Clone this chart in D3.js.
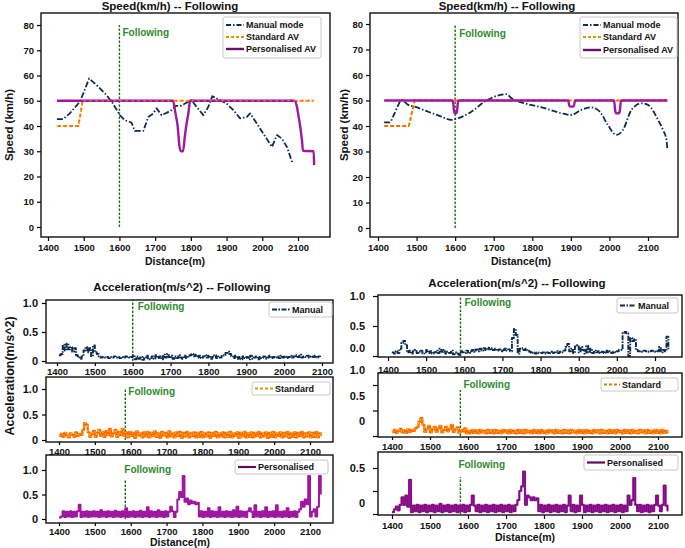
<!DOCTYPE html>
<html><head><meta charset="utf-8">
<script src="https://cdn.jsdelivr.net/npm/d3@7"></script>
<style>
body{margin:0;background:#fff}
text{font-family:Arial,"Liberation Sans",sans-serif;font-weight:bold;fill:#111}
</style>
</head><body>
<svg id="c" width="685" height="548"></svg>
<script>
// ---------------- DATA ----------------
const distTicks = [1400,1500,1600,1700,1800,1900,2000,2100];
const speedTicks = [0,10,20,30,40,50,60,70,80];
const accTicks = [0,0.5,1.0];
const accTickLabels = ["0","0.5","1.0"];
const accTickLabelsR1 = ["0.0","0.5","1.0"];
const accTicksR3 = [0,0.25,0.5];
const accTickLabelsR3 = ["0","","0.5"];
const followingLabel = "Following";
const speedSeriesNames = ["Manual mode","Standard AV","Personalised AV"];
const accSeriesNames = ["Manual","Standard","Personalised"];

// Speed, left study
const spdL_manual_d = [1425,1442,1461,1489,1502,1515,1536,1564,1582,1601,1615,1634,1643,1667,1681,1695,1704,1718,1732,1746,1758,1770,1784,1802,1816,1835,1849,1860,1882,1900,1919,1938,1957,1966,1980,2003,2027,2041,2055,2069,2085];
const spdL_manual_v = [42.7,42.7,45,49.6,54,58.8,56.2,52.2,48.9,44.3,42.3,41.3,38.1,38.1,43.6,45,47,44.3,45.2,46.3,48,47.9,48.9,50.2,47.6,44.3,47.6,51.8,50.2,48.9,46.3,43,43.6,45,42,37,31.7,36.4,35,31.7,25.1];
const spdL_std_d = [1425,1485,1497,2145];
const spdL_std_v = [40,40,50,50];
const spdL_pers_d = [1425,1750,1757,1763,1768,1772,1778,1783,1787,1793,1798,2090,2097,2101,2106,2111,2114,2144,2145];
const spdL_pers_v = [50,50,45,40,32,30,30,35.7,40,45,50,50,47.6,44.3,40,34.4,30.2,30,24.5];

// Speed, right study
const spdR_manual_d = [1416,1430,1443,1462,1478,1495,1530,1564,1590,1607,1642,1677,1702,1733,1746,1780,1832,1875,1901,1927,1953,1975,1996,2018,2035,2057,2083,2100,2126,2139,2148,2150];
const spdR_manual_v = [41.4,41.4,45,50.2,48.3,47.6,45.6,43.7,42.4,43,45.6,49.6,51.5,52.5,50.9,48.9,47,45,44.3,46.3,47.3,45.6,40.4,36.5,38.4,46.3,48.9,48.3,42.4,38.4,34.5,31.2];
const spdR_std_d = [1416,1480,1495,2150];
const spdR_std_v = [40,40,50,50];
const spdR_pers_d = [1416,1594,1597,1599,1603,1605,1608,1893,1896,1899,1905,1908,1911,2012,2015,2017,2025,2027,2030,2150];
const spdR_pers_v = [50,50,46,45,45,46,50,50,48,47.6,47.6,48,50,50,46,45,45,46,50,50];

// Following markers (distance, m)
const followL = [1600,1600,1585,1585];
const followR = [1600,1590,1580,1580];

// Acceleration series sampled every 5 m
const accStep = 5;
const accLM_start = 1405;
const accLM = [0.10,0.12,0.28,0.18,0.30,0.20,0.24,0.16,0.22,0.10,
 0.06,0.04,0.08,0.18,0.24,0.15,0.22,0.08,0.27,0.15,
 0.12,0.08,0.06,0.07,0.06,0.07,0.05,0.07,0.06,0.08,
 0.06,0.07,0.05,0.07,0.06,0.08,0.07,0.06,0.07,0.10,
 0.03,0.08,0.04,0.07,0.02,0.06,0.09,0.03,0.05,0.08,
 0.04,0.10,0.05,0.08,0.03,0.11,0.06,0.12,0.07,0.09,
 0.04,0.08,0.05,0.10,0.06,0.04,0.09,0.05,0.07,0.10,
 0.12,0.08,0.11,0.06,0.09,0.05,0.08,0.10,0.06,0.09,
 0.04,0.07,0.10,0.05,0.08,0.06,0.09,0.10,0.14,0.16,
 0.12,0.08,0.05,0.09,0.04,0.07,0.03,0.08,0.05,0.07,
 0.03,0.09,0.04,0.06,0.08,0.03,0.07,0.05,0.08,0.04,
 0.06,0.09,0.05,0.07,0.06,0.08,0.05,0.09,0.06,0.08,
 0.05,0.07,0.09,0.06,0.08,0.10,0.07,0.11,0.06,0.08,
 0.07,0.09,0.06,0.08,0.07,0.09,0.06,0.08,0.07];
const accLS_start = 1400;
const accLS = [0.08,0.12,0.06,0.14,0.09,0.05,0.13,0.10,0.06,0.15,
 0.08,0.12,0.10,0.20,0.33,0.30,0.15,0.06,0.12,0.18,
 0.06,0.14,0.20,0.08,0.15,0.06,0.18,0.10,0.22,0.07,
 0.13,0.20,0.06,0.16,0.10,0.22,0.08,0.15,0.05,0.16,
 0.08,0.14,0.04,0.17,0.09,0.13,0.05,0.15,0.07,0.16,
 0.05,0.14,0.08,0.17,0.06,0.13,0.04,0.16,0.09,0.14,
 0.05,0.17,0.07,0.13,0.05,0.15,0.08,0.16,0.04,0.14,
 0.07,0.16,0.05,0.13,0.08,0.15,0.05,0.14,0.06,0.16,
 0.05,0.13,0.07,0.15,0.04,0.14,0.08,0.16,0.05,0.13,
 0.07,0.15,0.05,0.14,0.06,0.16,0.05,0.13,0.08,0.15,
 0.04,0.14,0.07,0.16,0.05,0.13,0.06,0.15,0.05,0.14,
 0.08,0.16,0.05,0.13,0.07,0.15,0.04,0.14,0.06,0.16,
 0.05,0.13,0.08,0.15,0.05,0.14,0.07,0.16,0.04,0.13,
 0.06,0.15,0.05,0.14,0.08,0.16,0.05,0.13,0.07,0.15,
 0.05,0.14,0.06,0.16,0.05,0.13,0.08];
const accLP_start = 1400;
const accLP = [0.03,0.05,0.16,0.04,0.15,0.05,0.16,0.04,0.15,0.05,
 0.16,0.29,0.04,0.15,0.05,0.16,0.04,0.15,0.05,0.16,
 0.05,0.15,0.04,0.18,0.05,0.15,0.04,0.16,0.05,0.15,
 0.04,0.17,0.05,0.15,0.04,0.16,0.05,0.22,0.04,0.15,
 0.05,0.16,0.04,0.15,0.05,0.17,0.04,0.15,0.05,0.24,
 0.04,0.16,0.05,0.15,0.04,0.18,0.05,0.15,0.04,0.16,
 0.05,0.15,0.25,0.16,0.04,0.15,0.40,0.55,0.45,0.88,
 0.35,0.42,0.30,0.38,0.32,0.35,0.30,0.33,0.05,0.16,
 0.04,0.15,0.05,0.22,0.04,0.16,0.05,0.15,0.04,0.24,
 0.05,0.15,0.04,0.16,0.05,0.15,0.04,0.18,0.05,0.25,
 0.04,0.16,0.05,0.15,0.04,0.16,0.22,0.15,0.04,0.28,
 0.05,0.15,0.04,0.16,0.05,0.24,0.04,0.15,0.05,0.16,
 0.04,0.28,0.05,0.15,0.04,0.16,0.05,0.22,0.04,0.15,
 0.05,0.16,0.04,0.15,0.20,0.35,0.25,0.40,0.30,0.88,
 0.05,0.15,0.20,0.05,0.25,0.88,0.50];
const accRM_start = 1410;
const accRM = [0.06,0.04,0.08,0.05,0.12,0.22,0.25,0.18,0.06,0.09,
 0.04,0.08,0.10,0.05,0.07,0.09,0.04,0.06,0.10,0.05,
 0.08,0.04,0.06,0.09,0.05,0.12,0.07,0.10,0.04,0.07,
 0.05,0.09,0.03,0.06,0.04,0.02,0.08,0.06,0.05,0.09,
 0.05,0.08,0.10,0.07,0.11,0.08,0.12,0.09,0.13,0.10,
 0.14,0.11,0.13,0.10,0.12,0.09,0.11,0.08,0.10,0.12,
 0.09,0.11,0.08,0.30,0.45,0.35,0.04,0.12,0.13,0.10,
 0.12,0.09,0.07,0.05,0.06,0.04,0.06,0.05,0.05,0.06,
 0.04,0.06,0.05,0.07,0.05,0.06,0.08,0.05,0.07,0.06,
 0.09,0.15,0.20,0.08,0.12,0.05,0.16,0.18,0.06,0.15,
 0.10,0.04,0.17,0.06,0.12,0.05,0.09,0.06,0.08,0.05,
 0.07,0.05,0.09,0.06,0.08,0.05,0.07,0.06,0.08,0.10,
 0.10,0.38,0.40,0.38,0.00,0.30,0.25,0.28,0.10,0.08,
 0.08,0.07,0.09,0.08,0.07,0.08,0.09,0.08,0.07,0.08,
 0.15,0.06,0.10,0.08,0.32,0.10];
const accRS_start = 1400;
const accRS = [0.08,0.12,0.06,0.10,0.14,0.07,0.11,0.06,0.13,0.08,
 0.12,0.10,0.15,0.18,0.28,0.35,0.22,0.08,0.14,0.20,
 0.07,0.13,0.18,0.08,0.15,0.20,0.07,0.12,0.18,0.09,
 0.14,0.22,0.08,0.13,0.17,0.06,0.12,0.09,0.15,0.05,
 0.10,0.05,0.12,0.06,0.11,0.05,0.12,0.07,0.10,0.05,
 0.12,0.06,0.11,0.05,0.12,0.06,0.10,0.05,0.12,0.07,
 0.11,0.05,0.12,0.06,0.10,0.05,0.12,0.06,0.11,0.05,
 0.12,0.07,0.10,0.05,0.12,0.06,0.11,0.05,0.12,0.06,
 0.10,0.05,0.12,0.07,0.11,0.05,0.12,0.06,0.10,0.05,
 0.12,0.06,0.11,0.05,0.12,0.07,0.10,0.05,0.12,0.06,
 0.11,0.05,0.12,0.06,0.10,0.05,0.12,0.07,0.11,0.05,
 0.12,0.06,0.10,0.05,0.12,0.06,0.11,0.05,0.12,0.07,
 0.10,0.05,0.12,0.06,0.11,0.05,0.12,0.06,0.10,0.05,
 0.12,0.07,0.11,0.05,0.12,0.06,0.10,0.05,0.12,0.06,
 0.11,0.05,0.12,0.06,0.10,0.05];
const accRP_start = 1400;
const accRP = [0.02,0.05,0.08,0.04,0.10,0.18,0.10,0.20,0.08,0.37,
 0.02,0.09,0.03,0.10,0.02,0.09,0.03,0.10,0.02,0.09,
 0.03,0.10,0.02,0.09,0.03,0.11,0.02,0.09,0.03,0.10,
 0.02,0.09,0.03,0.10,0.02,0.09,0.03,0.10,0.02,0.09,
 0.03,0.10,0.20,0.09,0.03,0.10,0.02,0.09,0.03,0.10,
 0.02,0.09,0.03,0.10,0.02,0.09,0.03,0.10,0.02,0.09,
 0.03,0.10,0.02,0.09,0.03,0.10,0.15,0.25,0.30,0.46,
 0.10,0.20,0.18,0.15,0.18,0.15,0.17,0.03,0.10,0.02,
 0.09,0.03,0.10,0.02,0.09,0.03,0.10,0.02,0.09,0.03,
 0.10,0.02,0.09,0.20,0.03,0.10,0.02,0.09,0.03,0.20,
 0.10,0.02,0.09,0.03,0.10,0.02,0.09,0.03,0.10,0.02,
 0.09,0.03,0.10,0.02,0.09,0.03,0.10,0.02,0.09,0.03,
 0.10,0.02,0.09,0.03,0.20,0.10,0.15,0.39,0.10,0.03,
 0.10,0.02,0.09,0.03,0.10,0.02,0.09,0.03,0.10,0.20,
 0.09,0.03,0.10,0.31,0.09,0.03];

// ---------------- STYLE / LAYOUT ----------------
const C = {manual:"#0b2d52", std:"#ff6a00", stdHi:"#ffc61a", pers:"#a0189f", persDark:"#6a0a6a", green:"#1d6b1d", greenTxt:"#2e8b2e"};
const svg = d3.select("#c");

function panel(p){
  const g = svg.append("g");
  const x = d3.scaleLinear().domain([1400,2100]).range(p.xr);
  const y = d3.scaleLinear().domain(p.yd).range(p.yr);
  const [L,T,R,B] = p.box;
  const ax = g.append("g").attr("transform",`translate(0,${B})`)
    .call(d3.axisBottom(x).tickValues(distTicks).tickFormat(d3.format("d")).tickSize(p.xts||4).tickPadding(p.xtp||2));
  ax.select(".domain").remove();
  ax.selectAll("line").attr("stroke","#000").attr("stroke-width",1.2);
  ax.selectAll("text").attr("font-size",p.xfs||9.5).attr("font-family","Arial, Liberation Sans, sans-serif").attr("font-weight","bold").attr("fill","#111");
  const ay = g.append("g").attr("transform",`translate(${L},0)`)
    .call(d3.axisLeft(y).tickValues(p.yt).tickFormat((d,i)=>p.yl[i]).tickSize(p.yts||4).tickPadding(p.ytp||3));
  ay.select(".domain").remove();
  ay.selectAll("line").attr("stroke","#000").attr("stroke-width",1.2);
  ay.selectAll("text").attr("font-size",p.yfs||9.5).attr("font-family","Arial, Liberation Sans, sans-serif").attr("font-weight","bold").attr("fill","#111")
    .attr("y",(d,i)=> p.ydy ? p.ydy[i] : 0);
  const clipId = "clip"+Math.round(L)+"_"+Math.round(T);
  g.append("clipPath").attr("id",clipId).append("rect").attr("x",L).attr("y",T).attr("width",R-L).attr("height",B-T);
  const plot = g.append("g").attr("clip-path",`url(#${clipId})`);
  g.append("rect").attr("x",L).attr("y",T).attr("width",R-L).attr("height",B-T)
    .attr("fill","none").attr("stroke","#111").attr("stroke-width",1.4);
  return {g,plot,x,y};
}

function line(P, ds, vs, st, curve){
  const gen = d3.line().x((d,i)=>P.x(ds[i])).y(d=>P.y(d)).curve(curve||d3.curveLinear);
  const path = P.plot.append("path").datum(vs).attr("d",gen).attr("fill","none")
    .attr("stroke",st.c).attr("stroke-width",st.w).attr("stroke-linejoin","round");
  if(st.dash) path.attr("stroke-dasharray",st.dash);
  return path;
}
function accLine(P, start, vs, st){
  const ds = vs.map((v,i)=>start+i*accStep);
  return line(P, ds, vs, st, d3.curveStepAfter);
}
function following(P, d, yTop, yBot, lx, ly, fs){
  P.plot.append("line").attr("x1",P.x(d)).attr("x2",P.x(d)).attr("y1",P.y(yBot)).attr("y2",P.y(yTop))
    .attr("stroke",C.green).attr("stroke-width",1.4).attr("stroke-dasharray","2.5,1.5");
  P.g.append("text").attr("x",P.x(d)+lx).attr("y",ly).attr("font-size",fs||10).style("fill",C.greenTxt).text(followingLabel);
}
function legend(g, bx, items, fs, rowYs, lineLen){
  g.append("rect").attr("x",bx[0]).attr("y",bx[1]).attr("width",bx[2]-bx[0]).attr("height",bx[3]-bx[1])
    .attr("rx",2).attr("fill","#fff").attr("stroke","#c8c8c8").attr("stroke-width",1);
  items.forEach((it,i)=>{
    g.append("line").attr("x1",bx[0]+3).attr("x2",bx[0]+3+lineLen).attr("y1",rowYs[i]).attr("y2",rowYs[i])
      .attr("stroke",it.c).attr("stroke-width",it.w).attr("stroke-dasharray",it.dash||null);
    g.append("text").attr("x",bx[0]+5+lineLen).attr("y",rowYs[i]).attr("dy","0.35em").attr("font-size",fs).text(it.t);
  });
}
function txt(x,y,s,fs,rot){
  const t = svg.append("text").attr("text-anchor","middle").attr("font-size",fs).text(s);
  if(rot) t.attr("transform",`translate(${x},${y}) rotate(-90)`).attr("dy","0.35em");
  else t.attr("x",x).attr("y",y);
  return t;
}

const stManual = {c:C.manual,w:1.8,dash:"6,2,1.5,2"};
const stStd = {c:C.std,w:2,dash:"4,2"};
const stPers = {c:C.pers,w:2.4};

// ---------- TOP LEFT ----------
const TL = panel({box:[41,13,330,237], xr:[48,298], yd:[0,80], yr:[227,25], yt:speedTicks, yl:speedTicks.map(String), xts:4, xtp:3, ytp:3});
following(TL, followL[0], 80, 0, 3, 36, 10);
line(TL, spdL_manual_d, spdL_manual_v, stManual);
line(TL, spdL_std_d, spdL_std_v, stStd);
line(TL, spdL_pers_d, spdL_pers_v, stPers, d3.curveMonotoneX);
line(TL, spdL_std_d, spdL_std_v, {c:C.stdHi,w:0.8,dash:"2,4"});
legend(TL.g,[223,17,321,58],[
  {t:speedSeriesNames[0],c:C.manual,w:1.8,dash:"5,2,1.5,2"},
  {t:speedSeriesNames[1],c:"#d99a00",w:1.8,dash:"3,2"},
  {t:speedSeriesNames[2],c:"#6b0f6b",w:2.4}], 9, [25,37,49], 18);
txt(170,10,"Speed(km/h) -- Following",11.5);
txt(9,125,"Speed (km/h)",11.5,true);
txt(175,265,"Distance(m)",10.5);

// ---------- TOP RIGHT ----------
const TR = panel({box:[370,13,678,237], xr:[378,648], yd:[0,80], yr:[228,24], yt:speedTicks, yl:speedTicks.map(String), xts:4, xtp:3, ytp:3});
following(TR, followR[0], 80, 0, 4, 37, 10);
line(TR, spdR_manual_d, spdR_manual_v, stManual, d3.curveMonotoneX);
line(TR, spdR_std_d, spdR_std_v, stStd);
line(TR, spdR_pers_d, spdR_pers_v, stPers, d3.curveMonotoneX);
legend(TR.g,[580,17,677,58],[
  {t:speedSeriesNames[0],c:C.manual,w:1.8,dash:"5,2,1.5,2"},
  {t:speedSeriesNames[1],c:"#d99a00",w:1.8,dash:"3,2"},
  {t:speedSeriesNames[2],c:"#6b0f6b",w:2.4}], 9, [25,37,50], 18);
txt(507,10,"Speed(km/h) -- Following",11.5);
txt(344,125,"Speed (km/h)",11.5,true);
txt(521,265,"Distance(m)",10.5);

// ---------- BOTTOM LEFT ----------
const accStM = {c:C.manual,w:1.9,dash:"5,1.2,1.5,1.2"};
const accStS = {c:C.std,w:2.3};
const accStSh = {c:C.stdHi,w:0.9,dash:"2,3"};
const accStP = {c:C.pers,w:2.0};
const accStPd = {c:C.persDark,w:1.6};

const BL1 = panel({box:[46,300,333,363], xr:[57,322], yd:[0,1], yr:[361,303], yt:accTicks, yl:accTickLabels, xts:3, xtp:2, yts:4, ytp:4, yfs:11, xfs:9.5});
following(BL1, followL[1], 1.05, 0, 5, 310, 10);
accLine(BL1, accLM_start, accLM, accStM);
legend(BL1.g,[269,302,332,317],[{t:accSeriesNames[0],c:C.manual,w:1.8,dash:"5,1.5,1.5,1.5"}], 9, [309.5], 18);

const BL2 = panel({box:[46,377,333,442], xr:[59,310], yd:[0,1], yr:[440,389], yt:accTicks, yl:accTickLabels, xts:3, xtp:3, yts:4, ytp:4, yfs:11, xfs:9.5});
following(BL2, followL[2], 1.0, 0, 3, 395, 10);
accLine(BL2, accLS_start, accLS, accStS);
accLine(BL2, accLS_start, accLS, accStSh);
legend(BL2.g,[252,382,330,395],[{t:accSeriesNames[1],c:"#d99a00",w:1.8,dash:"3,2"}], 9, [388.5], 18);

const BL3 = panel({box:[46,455,333,523], xr:[59,310], yd:[0,1], yr:[519,470], yt:accTicks, yl:accTickLabels, xts:3, xtp:2, yts:4, ytp:4, yfs:11, xfs:9.5});
following(BL3, followL[3], 0.8, 0, -1, 473, 10);
accLine(BL3, accLP_start, accLP, accStP);
legend(BL3.g,[235,460,328,474],[{t:accSeriesNames[2],c:"#5c0d5c",w:2.2}], 9, [467], 18);

txt(182,291,"Acceleration(m/s^2) -- Following",11.5);
txt(10,376,"Acceleration(m/s^2)",12.5,true);
txt(180,546,"Distance(m)",10.5);

// ---------- BOTTOM RIGHT ----------
const BR1 = panel({box:[378,295,682,357], xr:[388,655], yd:[0,1], yr:[356,296], yt:accTicks, yl:accTickLabelsR1, ydy:[-8,0,0], xts:4, xtp:5, yts:5, ytp:8, yfs:11, xfs:9.5});
following(BR1, followR[1], 1.0, 0, 4, 306, 10);
accLine(BR1, accRM_start, accRM, accStM);
legend(BR1.g,[617,298,678,313],[{t:accSeriesNames[0],c:C.manual,w:1.8,dash:"5,1.5,1.5,1.5"}], 9, [305.5], 16);

const BR2 = panel({box:[378,373,682,437], xr:[392,658], yd:[0,1], yr:[436,385], yt:accTicks, yl:accTickLabels, ydy:[-15,-15,-15], xts:3, xtp:3, yts:5, ytp:8, yfs:11, xfs:9.5});
following(BR2, followR[2], 0.9, 0, 3, 388, 10);
accLine(BR2, accRS_start, accRS, accStS);
accLine(BR2, accRS_start, accRS, accStSh);
legend(BR2.g,[601,378,678,391],[{t:accSeriesNames[1],c:"#c98a00",w:1.8,dash:"3,2"}], 9, [384.5], 16);

const BR3 = panel({box:[378,452,682,515], xr:[392,658], yd:[0,1], yr:[514,422], yt:accTicksR3, yl:accTickLabelsR3, ydy:[-11,0,0], xts:4, xtp:3, yts:5, ytp:8, yfs:11, xfs:9.5});
following(BR3, followR[3], 0.4, 0, -2, 468, 10);
accLine(BR3, accRP_start, accRP, {c:C.pers,w:2.2});
accLine(BR3, accRP_start, accRP, {c:C.persDark,w:0.8});
legend(BR3.g,[584,455,678,470],[{t:accSeriesNames[2],c:"#5c0d5c",w:2.2}], 9, [462.5], 18);

txt(517,287,"Acceleration(m/s^2) -- Following",11.5);
txt(525,541,"Distance(m)",10.5);
</script>
</body></html>
